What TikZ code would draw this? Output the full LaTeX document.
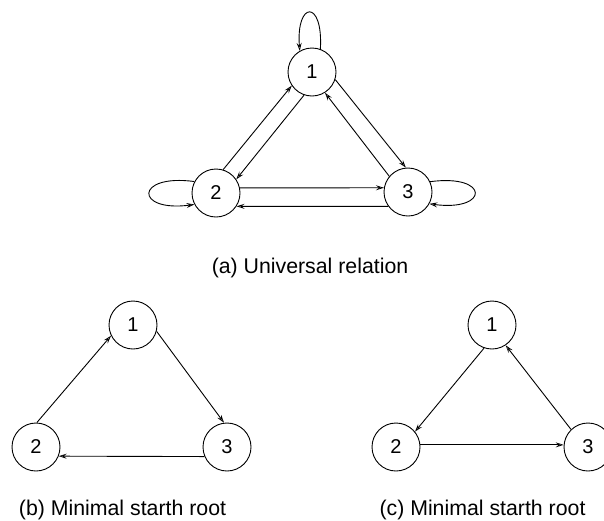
\documentclass[tikz,border=0pt]{standalone}
\usepackage{fontspec}
\setmainfont{Liberation Sans}
\usetikzlibrary{arrows.meta}
\begin{document}
\begin{tikzpicture}[x=1pt,y=-1pt,
  st/.style={circle,draw,minimum size=48pt,inner sep=0pt,line width=0.9pt,font=\fontsize{20}{24}\selectfont},
  arr/.style={line width=0.9pt,-{Stealth[length=8pt,width=5pt,inset=3pt,open,line width=0.7pt]}},
  captext/.style={inner sep=0pt,anchor=base,font=\fontsize{21.3}{25}\selectfont}]
\useasboundingbox (0,0) rectangle (604,520);
\clip (0,0) rectangle (604,520);
% (a)
\node[st] (a1) at (312,72) {1};
\node[st] (a2) at (216,193) {2};
\node[st] (a3) at (408,192) {3};
\draw[arr] (a2.73) -- (a1.214);
\draw[arr] (a1.251) -- (a2.34);
\draw[arr] (a1.342) -- (a3.95);
\draw[arr] (a3.140) -- (a1.302);
\draw[arr] (a2.12) -- (a3.170);
\draw[arr] (a3.216) -- (a2.327);
\draw[arr] (a1.70) .. controls +(3,-50) and +(-4,-50) .. (a1.120);
\draw[arr] (a2.152) .. controls +(-60,-8) and +(-60,8) .. (a2.208);
\draw[arr] (a3.25) .. controls +(60,-8) and +(60,8) .. (a3.331);
\node[captext] (capa) at (310,273) {(a) Universal relation};
% (b)
\node[st] (b1) at (133,325) {1};
\node[st] (b2) at (36,447) {2};
\node[st] (b3) at (227,447) {3};
\draw[arr] (b2.88) -- (b1.206);
\draw[arr] (b1.345) -- (b3.97);
\draw[arr] (b3.203) -- (b2.338);
\node[captext] (capb) at (122.5,515) {(b) Minimal starth root};
% (c)
\node[st] (c1) at (492,325) {1};
\node[st] (c2) at (396,447) {2};
\node[st] (c3) at (588,447) {3};
\draw[arr] (c1.251) -- (c2.39);
\draw[arr] (c2.5) -- (c3.175);
\draw[arr] (c3.134) -- (c1.304);
\node[captext] (capc) at (482.5,515) {(c) Minimal starth root};
\end{tikzpicture}
\end{document}
